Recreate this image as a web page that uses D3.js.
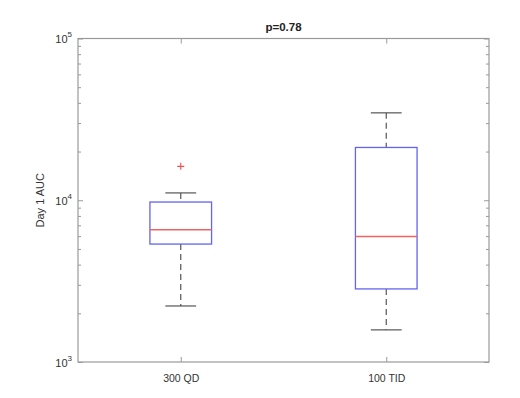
<!DOCTYPE html>
<html><head><meta charset="utf-8">
<script src="https://cdn.jsdelivr.net/npm/d3@7"></script>
<style>body{margin:0;background:#fff;} text{font-family:"Liberation Sans",Arial,sans-serif;}</style>
</head><body><svg id="c" width="520" height="398"></svg>
<script>
const categories = ["300 QD", "100 TID"];
const lowerWhisker = [2220, 1580];
const q1 = [5360, 2830];
const median = [6570, 5970];
const q3 = [9750, 21200];
const upperWhisker = [11100, 34700];
const outliers = [[16200], []];
const yMajorTicks = [1e3, 1e4, 1e5];
const yMinorTicks = [2e3,3e3,4e3,5e3,6e3,7e3,8e3,9e3,2e4,3e4,4e4,5e4,6e4,7e4,8e4,9e4];
const titleText = "p=0.78";
const yLabel = "Day 1 AUC";

const svg = d3.select("#c");
const L = 78, R = 489, T = 38.5, B = 362;
const x = d3.scaleLinear().domain([0.5, 2.5]).range([L, R]);
const y = d3.scaleLog().domain([1e3, 1e5]).range([B, T]);
const axisCol = "#9a9a9a", textCol = "#333";

// frame
svg.append("rect").attr("x", L).attr("y", T).attr("width", R - L).attr("height", B - T)
  .attr("fill", "none").attr("stroke", axisCol).attr("stroke-width", 1.2);

function styleAxis(g) {
  g.select(".domain").remove();
  g.selectAll(".tick line").attr("stroke", axisCol);
}
// left axis major
const gl = svg.append("g").attr("transform", `translate(${L},0)`)
  .call(d3.axisLeft(y).tickValues(yMajorTicks).tickSizeInner(-5).tickSizeOuter(0).tickPadding(6).tickFormat(""));
styleAxis(gl);
gl.selectAll(".tick").append("text").attr("x", -6).attr("y", 4).attr("text-anchor", "end")
  .attr("fill", textCol).attr("font-size", 11)
  .each(function(d) {
    const t = d3.select(this);
    t.append("tspan").text("10");
    t.append("tspan").attr("dy", -6).attr("font-size", 8).text(Math.round(Math.log10(d)));
  });
const glm = svg.append("g").attr("transform", `translate(${L},0)`)
  .call(d3.axisLeft(y).tickValues(yMinorTicks).tickSizeInner(-3).tickSizeOuter(0).tickFormat(""));
styleAxis(glm);
// right axis
const gr = svg.append("g").attr("transform", `translate(${R},0)`)
  .call(d3.axisRight(y).tickValues(yMajorTicks).tickSizeInner(-5).tickSizeOuter(0).tickFormat(""));
styleAxis(gr);
const grm = svg.append("g").attr("transform", `translate(${R},0)`)
  .call(d3.axisRight(y).tickValues(yMinorTicks).tickSizeInner(-3).tickSizeOuter(0).tickFormat(""));
styleAxis(grm);
// bottom axis
const gb = svg.append("g").attr("transform", `translate(0,${B})`)
  .call(d3.axisBottom(x).tickValues([1, 2]).tickSizeInner(-5).tickSizeOuter(0).tickPadding(13)
    .tickFormat((d) => categories[d - 1]));
styleAxis(gb);
gb.selectAll(".tick text").attr("fill", textCol).attr("font-size", 10.5)
  .attr("font-family", "Liberation Sans, Arial, sans-serif");
const gt = svg.append("g").attr("transform", `translate(0,${T})`)
  .call(d3.axisTop(x).tickValues([1, 2]).tickSizeInner(-5).tickSizeOuter(0).tickFormat(""));
styleAxis(gt);

// title
svg.append("text").attr("x", (L + R) / 2).attr("y", 31).attr("text-anchor", "middle")
  .attr("font-weight", "bold").attr("font-size", 11.5).attr("fill", "#222").text(titleText);
// y label
svg.append("text").attr("transform", `translate(44,${(T + B) / 2}) rotate(-90)`)
  .attr("text-anchor", "middle").attr("font-size", 11).attr("fill", textCol).text(yLabel);

// boxes
const boxW = 0.3, capW = 0.15;
const idx = d3.range(categories.length);
const g = svg.append("g");
idx.forEach(i => {
  const cx = x(i + 1);
  const dash = "6,4";
  // whiskers
  g.append("line").attr("x1", cx).attr("x2", cx).attr("y1", y(upperWhisker[i])).attr("y2", y(q3[i]))
    .attr("stroke", "#555").attr("stroke-dasharray", dash).attr("stroke-width", 1.2);
  g.append("line").attr("x1", cx).attr("x2", cx).attr("y1", y(q1[i])).attr("y2", y(lowerWhisker[i]))
    .attr("stroke", "#555").attr("stroke-dasharray", dash).attr("stroke-width", 1.2);
  [upperWhisker[i], lowerWhisker[i]].forEach(v => {
    g.append("line").attr("x1", x(i + 1 - capW / 2)).attr("x2", x(i + 1 + capW / 2))
      .attr("y1", y(v)).attr("y2", y(v)).attr("stroke", "#555").attr("stroke-width", 1.2);
  });
  g.append("rect").attr("x", x(i + 1 - boxW / 2)).attr("width", x(i + 1 + boxW / 2) - x(i + 1 - boxW / 2))
    .attr("y", y(q3[i])).attr("height", y(q1[i]) - y(q3[i]))
    .attr("fill", "none").attr("stroke", "#6464f0").attr("stroke-width", 1.3);
  g.append("line").attr("x1", x(i + 1 - boxW / 2)).attr("x2", x(i + 1 + boxW / 2))
    .attr("y1", y(median[i])).attr("y2", y(median[i])).attr("stroke", "#f06464").attr("stroke-width", 1.3);
  outliers[i].forEach(v => {
    const oy = y(v);
    g.append("path").attr("d", `M${cx - 3.5},${oy}H${cx + 3.5}M${cx},${oy - 3.5}V${oy + 3.5}`)
      .attr("stroke", "#f05050").attr("stroke-width", 1.1);
  });
});
</script></body></html>
